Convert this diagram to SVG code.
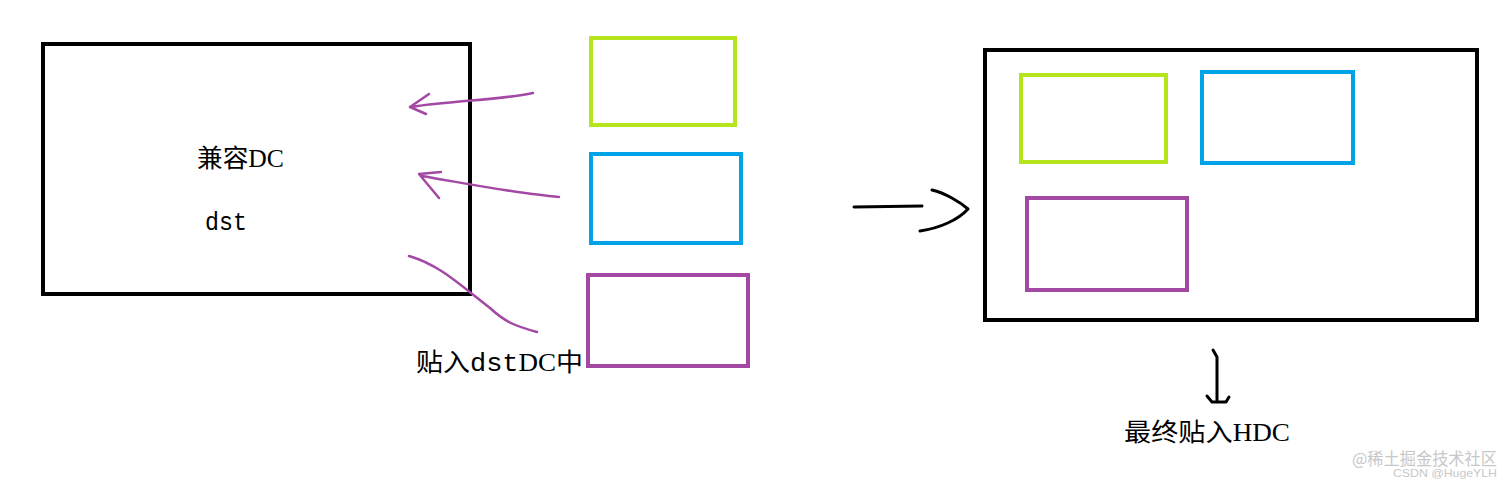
<svg xmlns="http://www.w3.org/2000/svg" width="1512" height="485" viewBox="0 0 1512 485">
<style>
.box{fill:none;stroke-width:4}
.k{stroke:#000}
.g{stroke:#b5e61d}
.b{stroke:#00a2e8}
.p{stroke:#a349a4}
.t{font-family:"Liberation Serif","Noto Sans CJK SC",serif;font-size:25px;fill:#000}
.m{font-family:"Liberation Mono","Noto Sans CJK SC",monospace}
.pl{fill:none;stroke:#a349a4;stroke-width:2.5;stroke-linecap:round;stroke-linejoin:round}
.bl{fill:none;stroke:#000;stroke-width:3;stroke-linecap:round;stroke-linejoin:round}
.wm{font-family:"Noto Sans CJK SC","Liberation Sans",sans-serif;fill:#c8c8c8}
</style>
<rect width="1512" height="485" fill="#fff"/>
<g id="compatDC">
<rect class="box k" x="43" y="44" width="427" height="250"/>
<text class="t" x="197" y="167" textLength="87" lengthAdjust="spacingAndGlyphs">兼容DC</text>
<text class="t m" x="205" y="230" textLength="42" lengthAdjust="spacingAndGlyphs">dst</text>
</g>
<g id="green1"><rect class="box g" x="591" y="38" width="144" height="87"/></g>
<g id="blue1"><rect class="box b" x="591" y="154" width="150" height="89"/></g>
<g id="purple1"><rect class="box p" x="588" y="275" width="160" height="91"/></g>
<g id="label1"><text class="t" x="416" y="371" textLength="167" lengthAdjust="spacingAndGlyphs">贴入<tspan class="m">dst</tspan>DC中</text></g>
<g id="hdcBox">
<rect class="box k" x="985" y="50" width="492" height="270"/>
<rect class="box g" x="1021" y="75" width="145" height="87"/>
<rect class="box b" x="1202" y="72" width="151" height="91"/>
<rect class="box p" x="1027" y="198" width="160" height="92"/>
</g>
<g id="label2"><text class="t" x="1124" y="441" textLength="166" lengthAdjust="spacingAndGlyphs">最终贴入HDC</text></g>
<g id="connectors">
<path class="pl" d="M533,93 C500,100 460,100 410,107 M429,94 L410,107 L426,114"/>
<path class="pl" d="M559,197 C520,194 480,186 422,176 M441,172 L419,174 L439,198"/>
<path class="pl" d="M409,256 C440,265 460,285 490,308 C505,322 515,326 537,332"/>
<path class="bl" d="M854,207 L922,206 M932,190 C945,193 960,202 968,209 C958,220 940,228 920,231"/>
<path class="bl" d="M1213,350 L1217,357 L1217,400 M1207,396 L1212,402 L1226,402 L1229,397"/>
</g>
<g id="watermark">
<text class="wm" x="1352" y="465" font-size="17" textLength="145" lengthAdjust="spacingAndGlyphs">@稀土掘金技术社区</text>
<text class="wm" x="1393" y="477" font-size="11" textLength="104" lengthAdjust="spacingAndGlyphs" style="font-family:'Liberation Sans',sans-serif">CSDN @HugeYLH</text>
</g>
</svg>
